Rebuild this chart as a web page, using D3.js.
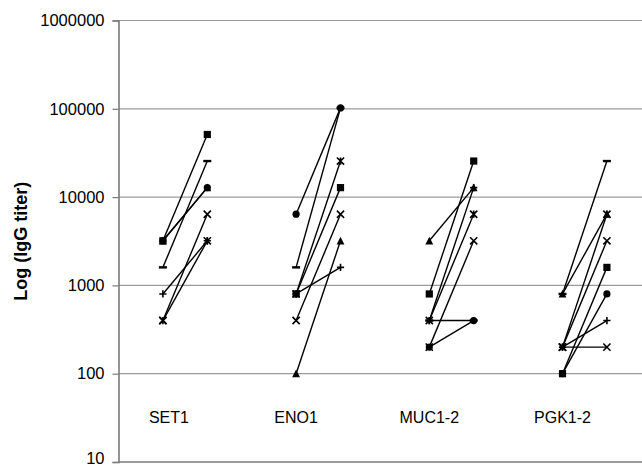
<!DOCTYPE html>
<html>
<head>
<meta charset="utf-8">
<script src="https://cdn.jsdelivr.net/npm/d3@7"></script>
<style>
  html, body { margin: 0; padding: 0; background: #fff; }
  svg { display: block; font-family: "Liberation Sans", Arial, sans-serif; }
</style>
</head>
<body>
<svg id="chart" width="642" height="466"></svg>
<script>
// ---- data ----
const groups = ["SET1", "ENO1", "MUC1-2", "PGK1-2"];
const yTicks = [10, 100, 1000, 10000, 100000, 1000000];
const yTickLabels = ["10", "100", "1000", "10000", "100000", "1000000"];
const yTitle = "Log (IgG titer)";
// values: [pre, post] for each group in order
const markers = ["square", "dash", "triangle", "x", "star", "circle", "plus", "x"];
const sSquare   = [3200, 51200,  800, 12800,   800, 25600,  100, 1600];
const sDash     = [1600, 25600, 1600, 102400,  400, 400,    800, 25600];
const sTriangle = [3200, 12800,  100, 3200,   3200, 12800,  800, 6400];
const sX        = [400, 6400,    400, 6400,    200, 3200,   200, 3200];
const sStar     = [400, 3200,    800, 25600,   400, 6400,   200, 6400];
const sCircle   = [3200, 12800, 6400, 102400,  200, 400,    100, 800];
const sPlus     = [800, 3200,    800, 1600,    400, 12800,  200, 400];
const sX2       = [null, null,  null, null,   null, null,   200, 200];
const seriesValues = [sSquare, sDash, sTriangle, sX, sStar, sCircle, sPlus, sX2];

// ---- layout ----
const svg = d3.select("#chart");
const mLeft = 118.5, mTop = 20.5, mBottom = 462;
const x = d3.scaleLinear().domain([0, 12]).range([mLeft, mLeft + 12 * 44.4]);
const y = d3.scaleLog().domain([10, 1000000]).range([mBottom, mTop]);
const slotX = (g, k) => x(1 + 3 * g + k);

// gridlines
svg.append("g").selectAll("line").data(yTicks.slice(1)).join("line")
  .attr("x1", mLeft).attr("x2", 642)
  .attr("y1", d => y(d)).attr("y2", d => y(d))
  .attr("stroke", "#9a9a9a").attr("stroke-width", 1.2);

// y axis
const yAxis = d3.axisLeft(y).tickValues(yTicks)
  .tickFormat((d, i) => yTickLabels[i]).tickSize(6).tickPadding(8);
const ya = svg.append("g").attr("transform", `translate(${mLeft},0)`).call(yAxis);
ya.select(".domain").attr("stroke", "#7a7a7a").attr("stroke-width", 1.6);
ya.selectAll(".tick line").attr("stroke", "#7a7a7a").attr("stroke-width", 1.2);
ya.selectAll("text").attr("font-size", 16.5).attr("fill", "#000")
  .attr("font-family", "Liberation Sans, Arial, sans-serif");
// keep the lowest label inside the picture
ya.selectAll(".tick text").filter(d => d === 10).attr("dy", "0.1em");

// bottom axis line
svg.append("line").attr("x1", mLeft).attr("x2", 642)
  .attr("y1", y(10)).attr("y2", y(10))
  .attr("stroke", "#7a7a7a").attr("stroke-width", 1.6);

// y title
svg.append("text")
  .attr("transform", `translate(26.5,${(mTop + mBottom) / 2}) rotate(-90)`)
  .attr("text-anchor", "middle").attr("font-size", 18).attr("font-weight", "bold")
  .text(yTitle);

// category labels
svg.append("g").selectAll("text").data(groups).join("text")
  .attr("x", (d, i) => slotX(i, 0) + (i === 0 ? 6 : 0))
  .attr("y", 423).attr("text-anchor", "middle").attr("font-size", 16)
  .text(d => d);

// lines
const lineG = svg.append("g");
seriesValues.forEach(vals => {
  groups.forEach((g, gi) => {
    const a = vals[2 * gi], b = vals[2 * gi + 1];
    if (a == null || b == null) return;
    lineG.append("line")
      .attr("x1", slotX(gi, 0)).attr("y1", y(a))
      .attr("x2", slotX(gi, 1)).attr("y2", y(b))
      .attr("stroke", "#000").attr("stroke-width", 1.4);
  });
});

// markers
function drawMarker(g, type, cx, cy) {
  const r = 3.6;
  if (type === "square") {
    g.append("rect").attr("x", cx - r).attr("y", cy - r).attr("width", 2 * r).attr("height", 2 * r).attr("fill", "#000");
  } else if (type === "circle") {
    g.append("circle").attr("cx", cx).attr("cy", cy).attr("r", r).attr("fill", "#000");
  } else if (type === "triangle") {
    g.append("path").attr("d", `M${cx},${cy - r - 0.5}L${cx + r + 0.3},${cy + r}L${cx - r - 0.3},${cy + r}Z`).attr("fill", "#000");
  } else if (type === "dash") {
    g.append("rect").attr("x", cx - 4).attr("y", cy - 1.2).attr("width", 8).attr("height", 2.4).attr("fill", "#000");
  } else {
    let d = "";
    if (type === "x" || type === "star") d += `M${cx - r},${cy - r}L${cx + r},${cy + r}M${cx - r},${cy + r}L${cx + r},${cy - r}`;
    if (type === "star") d += `M${cx},${cy - r}L${cx},${cy + r}`;
    if (type === "plus") d += `M${cx - r},${cy}L${cx + r},${cy}M${cx},${cy - r}L${cx},${cy + r}`;
    g.append("path").attr("d", d).attr("stroke", "#000").attr("stroke-width", 1.6).attr("fill", "none");
  }
}
const markG = svg.append("g");
seriesValues.forEach((vals, si) => {
  vals.forEach((v, j) => {
    if (v == null) return;
    const gi = Math.floor(j / 2), k = j % 2;
    drawMarker(markG, markers[si], slotX(gi, k), y(v));
  });
});
</script>
</body>
</html>
